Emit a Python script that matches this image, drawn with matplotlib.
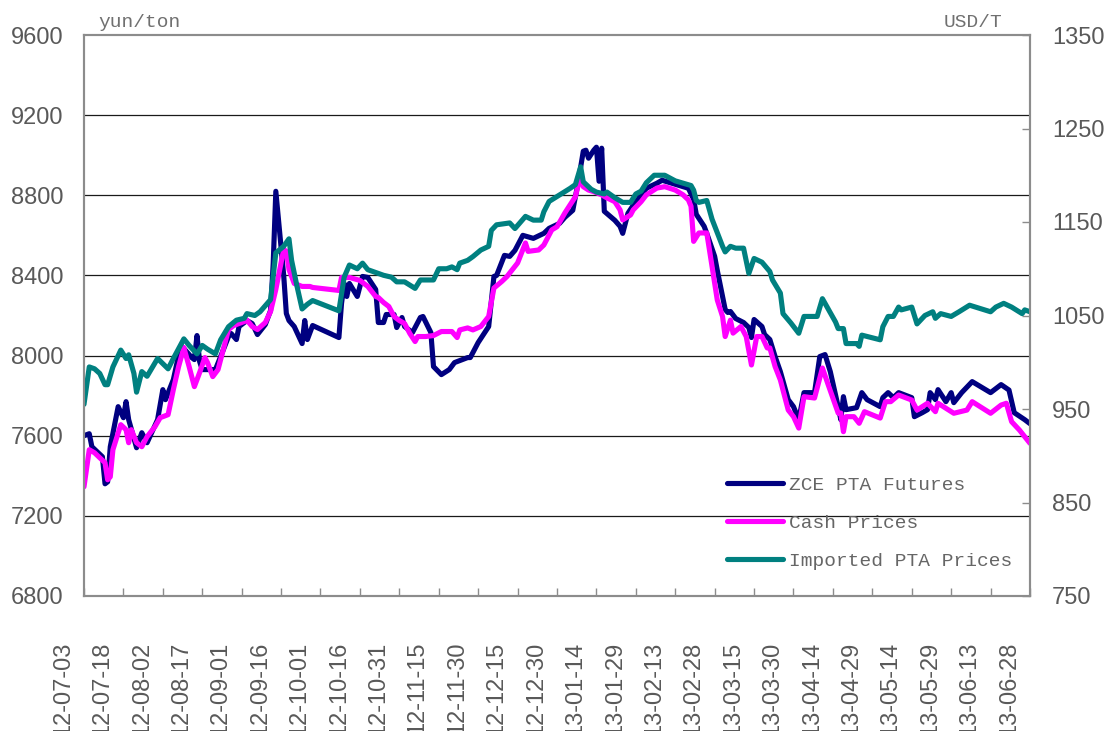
import matplotlib
matplotlib.use("Agg")
import matplotlib.pyplot as plt
import matplotlib.transforms as mtransforms
import pandas as pd

# ZCE PTA futures (yuan/ton, left axis)
fut_dates = [
    "2012-07-03", "2012-07-05", "2012-07-06", "2012-07-10", "2012-07-11", "2012-07-12",
    "2012-07-13", "2012-07-16", "2012-07-18", "2012-07-19", "2012-07-20", "2012-07-23",
    "2012-07-25", "2012-07-27", "2012-07-31", "2012-08-02", "2012-08-03", "2012-08-06",
    "2012-08-08", "2012-08-09", "2012-08-13", "2012-08-14", "2012-08-15", "2012-08-16",
    "2012-08-17", "2012-08-22", "2012-08-24", "2012-08-27", "2012-08-28", "2012-08-30",
    "2012-08-31", "2012-09-03", "2012-09-05", "2012-09-07", "2012-09-10", "2012-09-12",
    "2012-09-13", "2012-09-14", "2012-09-17", "2012-09-18", "2012-09-19", "2012-09-21",
    "2012-09-24", "2012-09-25", "2012-09-26", "2012-09-28", "2012-10-08", "2012-10-09",
    "2012-10-10", "2012-10-11", "2012-10-12", "2012-10-15", "2012-10-17", "2012-10-19",
    "2012-10-22", "2012-10-23", "2012-10-25", "2012-10-26", "2012-10-29", "2012-10-30",
    "2012-11-01", "2012-11-02", "2012-11-05", "2012-11-08", "2012-11-09", "2012-11-12",
    "2012-11-13", "2012-11-16", "2012-11-19", "2012-11-21", "2012-11-26", "2012-11-27",
    "2012-11-30", "2012-12-04", "2012-12-06", "2012-12-07", "2012-12-10", "2012-12-12",
    "2012-12-14", "2012-12-17", "2012-12-21", "2012-12-25", "2012-12-27", "2012-12-31",
    "2013-01-02", "2013-01-05", "2013-01-07", "2013-01-09", "2013-01-10", "2013-01-11",
    "2013-01-13", "2013-01-14", "2013-01-15", "2013-01-16", "2013-01-17", "2013-01-21",
    "2013-01-23", "2013-01-24", "2013-01-26", "2013-01-28", "2013-01-31", "2013-02-02",
    "2013-02-06", "2013-02-08", "2013-02-18", "2013-02-20", "2013-02-21", "2013-02-24",
    "2013-02-25", "2013-02-28", "2013-03-01", "2013-03-03", "2013-03-04", "2013-03-05",
    "2013-03-06", "2013-03-08", "2013-03-11", "2013-03-13", "2013-03-14", "2013-03-15",
    "2013-03-18", "2013-03-19", "2013-03-21", "2013-03-23", "2013-03-25", "2013-03-28",
    "2013-03-30", "2013-04-01", "2013-04-03", "2013-04-07", "2013-04-09", "2013-04-11",
    "2013-04-13", "2013-04-16", "2013-04-17", "2013-04-18", "2013-04-19", "2013-04-23",
    "2013-04-25", "2013-04-27", "2013-05-02", "2013-05-03", "2013-05-05", "2013-05-07",
    "2013-05-09", "2013-05-14", "2013-05-15", "2013-05-18", "2013-05-20", "2013-05-21",
    "2013-05-23", "2013-05-24", "2013-05-27", "2013-05-29", "2013-05-30", "2013-06-02",
    "2013-06-06", "2013-06-13", "2013-06-17", "2013-06-20", "2013-06-22", "2013-06-26",
    "2013-06-28",
]
fut_vals = [
    7600, 7610, 7545, 7495, 7360, 7370,
    7545, 7745, 7690, 7770, 7680, 7540,
    7615, 7565, 7680, 7830, 7780, 7880,
    8000, 8050, 7990, 7980, 8100, 7970,
    7930, 7930, 7995, 8095, 8110, 8080,
    8145, 8175, 8160, 8105, 8155, 8225,
    8460, 8820, 8400, 8210, 8175, 8145,
    8060, 8175, 8080, 8150, 8090, 8260,
    8360, 8295, 8360, 8295, 8395, 8390,
    8330, 8165, 8165, 8205, 8205, 8140,
    8190, 8145, 8115, 8190, 8195, 8115,
    7945, 7905, 7930, 7965, 7990, 7990,
    8065, 8145, 8395, 8400, 8500, 8495,
    8525, 8600, 8585, 8610, 8635, 8660,
    8690, 8725, 8860, 9020, 9025, 8985,
    9025, 9040, 8870, 9035, 8720, 8675,
    8645, 8610, 8710, 8750, 8800, 8835,
    8860, 8875, 8835, 8780, 8705, 8645,
    8610, 8495, 8425, 8295, 8230, 8215,
    8220, 8185, 8165, 8140, 8090, 8180,
    8145, 8105, 8080, 7995, 7920, 7780,
    7745, 7680, 7815, 7815, 7995, 8005,
    7920, 7745, 7680, 7795, 7730, 7740,
    7815, 7780, 7745, 7790, 7815, 7790,
    7815, 7790, 7695, 7715, 7730, 7815,
    7780, 7830, 7770, 7815, 7765, 7815,
    7870, 7815, 7855, 7828, 7715, 7680,
    7660,
]

# Cash prices (yuan/ton, left axis)
cash_dates = [
    "2012-07-03", "2012-07-05", "2012-07-07", "2012-07-09", "2012-07-11", "2012-07-12",
    "2012-07-13", "2012-07-14", "2012-07-17", "2012-07-19", "2012-07-20", "2012-07-21",
    "2012-07-23", "2012-07-25", "2012-07-27", "2012-07-30", "2012-08-01", "2012-08-04",
    "2012-08-06", "2012-08-08", "2012-08-10", "2012-08-12", "2012-08-14", "2012-08-16",
    "2012-08-18", "2012-08-19", "2012-08-21", "2012-08-23", "2012-08-25", "2012-08-27",
    "2012-08-29", "2012-09-02", "2012-09-03", "2012-09-05", "2012-09-07", "2012-09-10",
    "2012-09-12", "2012-09-14", "2012-09-17", "2012-09-18", "2012-09-19", "2012-09-21",
    "2012-09-24", "2012-09-27", "2012-09-28", "2012-10-08", "2012-10-09", "2012-10-12",
    "2012-10-16", "2012-10-19", "2012-10-22", "2012-10-23", "2012-10-25", "2012-10-27",
    "2012-10-29", "2012-10-31", "2012-11-02", "2012-11-04", "2012-11-06", "2012-11-07",
    "2012-11-10", "2012-11-13", "2012-11-16", "2012-11-20", "2012-11-22", "2012-11-23",
    "2012-11-26", "2012-11-28", "2012-12-01", "2012-12-04", "2012-12-06", "2012-12-09",
    "2012-12-11", "2012-12-12", "2012-12-15", "2012-12-18", "2012-12-19", "2012-12-23",
    "2012-12-25", "2012-12-28", "2012-12-30", "2013-01-02", "2013-01-06", "2013-01-08",
    "2013-01-09", "2013-01-11", "2013-01-13", "2013-01-16", "2013-01-18", "2013-01-21",
    "2013-01-23", "2013-01-24", "2013-01-27", "2013-01-28", "2013-01-31", "2013-02-02",
    "2013-02-06", "2013-02-09", "2013-02-13", "2013-02-16", "2013-02-18", "2013-02-19",
    "2013-02-20", "2013-02-22", "2013-02-25", "2013-02-26", "2013-02-27", "2013-03-01",
    "2013-03-03", "2013-03-04", "2013-03-06", "2013-03-07", "2013-03-10", "2013-03-12",
    "2013-03-14", "2013-03-16", "2013-03-18", "2013-03-20", "2013-03-21", "2013-03-23",
    "2013-03-25", "2013-03-28", "2013-03-30", "2013-04-01", "2013-04-03", "2013-04-07",
    "2013-04-10", "2013-04-12", "2013-04-16", "2013-04-17", "2013-04-18", "2013-04-19",
    "2013-04-22", "2013-04-24", "2013-04-26", "2013-05-02", "2013-05-04", "2013-05-06",
    "2013-05-09", "2013-05-14", "2013-05-16", "2013-05-20", "2013-05-23", "2013-05-24",
    "2013-05-30", "2013-06-04", "2013-06-06", "2013-06-13", "2013-06-17", "2013-06-19",
    "2013-06-21", "2013-06-24", "2013-06-28",
]
cash_vals = [
    7345, 7530, 7515, 7490, 7465, 7380,
    7395, 7530, 7655, 7630, 7565, 7630,
    7565, 7545, 7595, 7645, 7690, 7705,
    7830, 7945, 8040, 7945, 7845, 7915,
    7990, 7965, 7895, 7930, 8030, 8130,
    8150, 8170, 8177, 8145, 8130, 8165,
    8220, 8330, 8530, 8520, 8430, 8360,
    8345, 8345, 8340, 8325, 8390, 8390,
    8375, 8345, 8295, 8290, 8265, 8245,
    8195, 8175, 8160, 8110, 8070, 8095,
    8095, 8100, 8120, 8120, 8090, 8128,
    8138, 8128, 8145, 8195, 8337, 8370,
    8395, 8412, 8462, 8562, 8520, 8527,
    8552, 8627, 8643, 8712, 8793, 8901,
    8843, 8826, 8818, 8802, 8787, 8768,
    8727, 8677, 8702, 8727, 8768, 8802,
    8836, 8843, 8826, 8802, 8777, 8745,
    8570, 8612, 8612, 8530, 8445, 8277,
    8195, 8095, 8177, 8112, 8145, 8095,
    7953, 8095, 8095, 8038, 8038, 7945,
    7878, 7728, 7695, 7638, 7795, 7788,
    7938, 7862, 7713, 7713, 7620, 7695,
    7695, 7662, 7720, 7688, 7770, 7770,
    7803, 7778, 7728, 7762, 7720, 7762,
    7712, 7728, 7770, 7712, 7753, 7762,
    7670, 7628, 7562,
]

# Imported PTA prices (USD/T, right axis)
imp_dates = [
    "2012-07-03", "2012-07-05", "2012-07-07", "2012-07-09", "2012-07-11", "2012-07-12",
    "2012-07-14", "2012-07-17", "2012-07-19", "2012-07-20", "2012-07-22", "2012-07-23",
    "2012-07-25", "2012-07-27", "2012-07-31", "2012-08-04", "2012-08-06", "2012-08-10",
    "2012-08-12", "2012-08-15", "2012-08-17", "2012-08-19", "2012-08-22", "2012-08-24",
    "2012-08-27", "2012-08-30", "2012-09-02", "2012-09-03", "2012-09-06", "2012-09-08",
    "2012-09-12", "2012-09-14", "2012-09-17", "2012-09-19", "2012-09-20", "2012-09-22",
    "2012-09-24", "2012-09-26", "2012-09-28", "2012-10-08", "2012-10-10", "2012-10-12",
    "2012-10-15", "2012-10-17", "2012-10-19", "2012-10-23", "2012-10-25", "2012-10-28",
    "2012-10-30", "2012-11-02", "2012-11-06", "2012-11-08", "2012-11-11", "2012-11-13",
    "2012-11-15", "2012-11-18", "2012-11-20", "2012-11-22", "2012-11-23", "2012-11-26",
    "2012-11-28", "2012-12-01", "2012-12-04", "2012-12-05", "2012-12-07", "2012-12-12",
    "2012-12-14", "2012-12-18", "2012-12-21", "2012-12-24", "2012-12-25", "2012-12-27",
    "2012-12-31", "2013-01-04", "2013-01-06", "2013-01-08", "2013-01-09", "2013-01-12",
    "2013-01-14", "2013-01-17", "2013-01-18", "2013-01-21", "2013-01-24", "2013-01-27",
    "2013-01-29", "2013-01-31", "2013-02-02", "2013-02-05", "2013-02-09", "2013-02-13",
    "2013-02-19", "2013-02-20", "2013-02-21", "2013-02-22", "2013-02-25", "2013-02-27",
    "2013-03-03", "2013-03-04", "2013-03-06", "2013-03-08", "2013-03-11", "2013-03-13",
    "2013-03-15", "2013-03-18", "2013-03-21", "2013-03-22", "2013-03-25", "2013-03-26",
    "2013-03-29", "2013-04-01", "2013-04-03", "2013-04-08", "2013-04-10", "2013-04-11",
    "2013-04-15", "2013-04-16", "2013-04-18", "2013-04-19", "2013-04-23", "2013-04-24",
    "2013-04-25", "2013-05-02", "2013-05-03", "2013-05-05", "2013-05-07", "2013-05-09",
    "2013-05-10", "2013-05-14", "2013-05-16", "2013-05-19", "2013-05-22", "2013-05-23",
    "2013-05-25", "2013-05-29", "2013-06-01", "2013-06-05", "2013-06-13", "2013-06-15",
    "2013-06-18", "2013-06-21", "2013-06-25", "2013-06-26", "2013-06-28",
]
imp_vals = [
    955, 995, 993, 988, 976, 976,
    995, 1013, 1004, 1008, 988, 968,
    990, 985, 1004, 993, 1004, 1025,
    1018, 1009, 1018, 1014, 1009, 1024,
    1038, 1045, 1047, 1052, 1050, 1054,
    1067, 1117, 1124, 1132, 1109, 1082,
    1057, 1062, 1066, 1055, 1091, 1104,
    1100, 1106, 1099, 1095, 1093, 1091,
    1086, 1086, 1079, 1088, 1088, 1088,
    1100, 1100, 1102, 1099, 1106, 1109,
    1113, 1120, 1124, 1141, 1147, 1149,
    1143, 1156, 1152, 1152, 1161, 1172,
    1179, 1186, 1190, 1209, 1193, 1185,
    1182, 1180, 1182, 1176, 1171, 1171,
    1180, 1183, 1192, 1200, 1200, 1194,
    1189, 1184, 1173, 1171, 1173, 1153,
    1124, 1118, 1124, 1122, 1122, 1095,
    1111, 1107, 1097, 1088, 1074, 1052,
    1042, 1031, 1049, 1049, 1068, 1063,
    1043, 1036, 1036, 1020, 1020, 1017,
    1029, 1024, 1038, 1049, 1049, 1059,
    1056, 1059, 1041, 1050, 1054, 1047,
    1052, 1049, 1054, 1061, 1054, 1059,
    1063, 1059, 1052, 1056, 1054,
]

series_labels = ["ZCE PTA Futures", "Cash Prices", "Imported PTA Prices"]
series_colors = ["#000080", "#FF00FF", "#008080"]

x_start, x_end = "2012-07-03", "2013-06-28"
left_ticks = [6800, 7200, 7600, 8000, 8400, 8800, 9200, 9600]
right_ticks = [750, 850, 950, 1050, 1150, 1250, 1350]

tick_gray = "#595959"
spine_gray = "#8c8c8c"
unit_font = "Liberation Mono"

fig = plt.figure(figsize=(11.11, 7.31), dpi=100)
ax = fig.add_axes([84 / 1111, 1 - 596 / 731, 946 / 1111, 561 / 731])
ax2 = ax.twinx()

line_kw = dict(linewidth=3.7, solid_joinstyle="round", solid_capstyle="round")
l1, = ax.plot(pd.to_datetime(fut_dates), fut_vals, color=series_colors[0], **line_kw)
l2, = ax.plot(pd.to_datetime(cash_dates), cash_vals, color=series_colors[1], **line_kw)
l3, = ax2.plot(pd.to_datetime(imp_dates), imp_vals, color=series_colors[2], **line_kw)

ax.set_xlim(pd.Timestamp(x_start), pd.Timestamp(x_end))
ax.set_ylim(6800, 9600)
ax2.set_ylim(750, 1350)
ax.set_yticks(left_ticks)
ax2.set_yticks(right_ticks)

# grid lines only at interior levels
for v in left_ticks[1:-1]:
    ax.axhline(v, color="#1a1a1a", linewidth=0.9, zorder=0.5)

# date ticks every 15 days; the labels sit a little left of their tick marks
xt = pd.date_range(x_start, x_end, freq="15D")
ax.set_xticks(xt)
ax.set_xticklabels([])
lab_tr = mtransforms.blended_transform_factory(ax.transData, ax.transAxes) + \
    mtransforms.ScaledTranslation(-21 / 100, -46 / 100, fig.dpi_scale_trans)
for d in xt:
    ax.text(d, 0, d.strftime("%y-%m-%d"), transform=lab_tr, rotation=90,
            ha="center", va="top", fontsize=17, color=tick_gray,
            family="Liberation Sans", clip_on=False)

ax.tick_params(axis="x", direction="in", length=6, width=1, color=spine_gray)
ax.tick_params(axis="y", length=0, pad=15, labelsize=17, labelcolor=tick_gray)
ax2.tick_params(axis="y", direction="in", length=6, width=1, color=spine_gray,
                pad=16, labelsize=17, labelcolor=tick_gray)
for a in (ax, ax2):
    for lab in a.get_yticklabels():
        lab.set_family("Liberation Sans")
    for s in a.spines.values():
        s.set_color(spine_gray)
        s.set_linewidth(1.5)

fig.text(98 / 1111, 1 - 27 / 731, "yun/ton", family=unit_font, fontsize=14,
         color="#707070", va="baseline", ha="left")
fig.text(1002 / 1111, 1 - 27 / 731, "USD/T", family=unit_font, fontsize=14,
         color="#707070", va="baseline", ha="right")

leg = ax2.legend([l1, l2, l3], series_labels, loc="upper left",
                 bbox_to_anchor=(727 / 1111, 1 - 476 / 731),
                 bbox_transform=fig.transFigure, frameon=False, borderpad=0,
                 borderaxespad=0, handlelength=2.9, handletextpad=0.3,
                 labelspacing=1.05, prop={"family": unit_font, "size": 14})
for t in leg.get_texts():
    t.set_color("#666666")

fig.savefig("out.png", dpi=100)
